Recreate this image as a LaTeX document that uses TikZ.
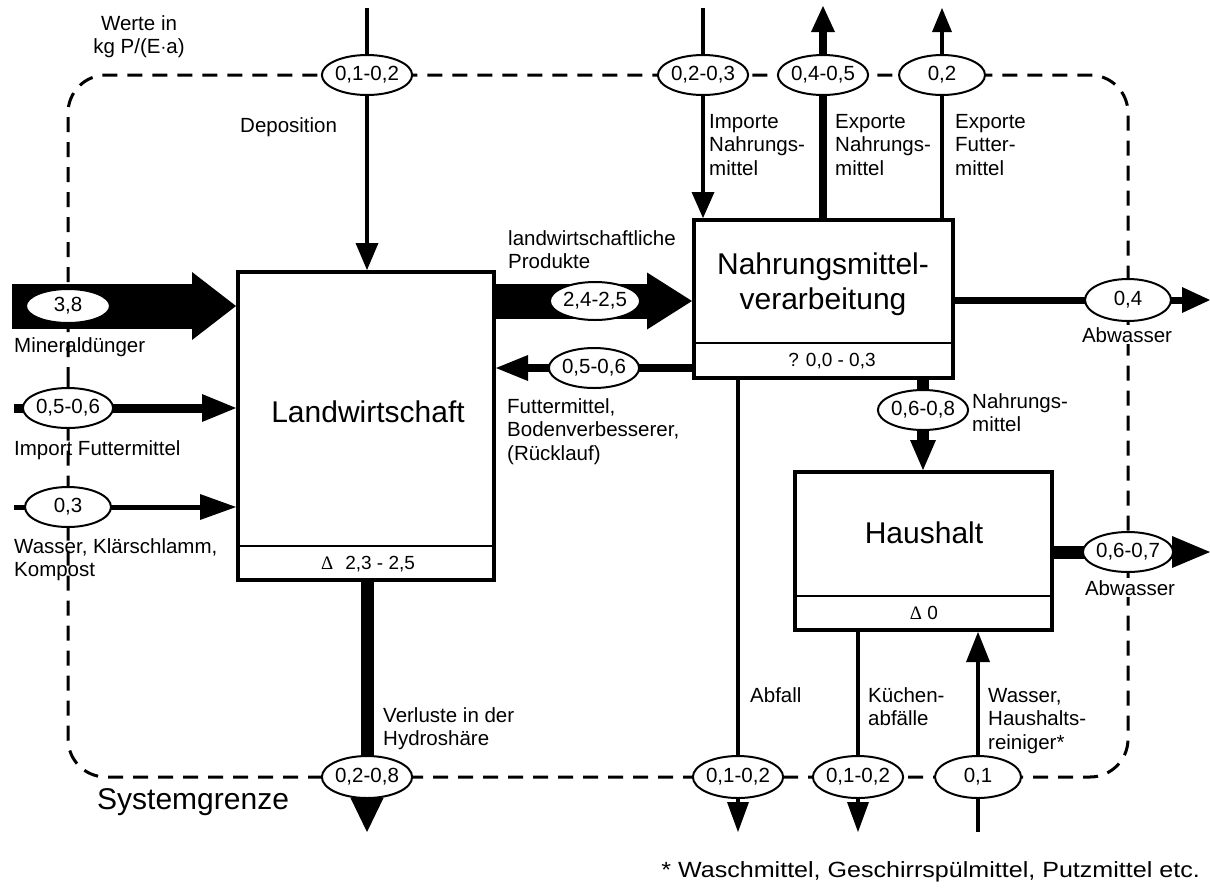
\documentclass[tikz,border=0pt]{standalone}
\usepackage{fontspec}
\setmainfont{Liberation Sans}
\newfontfamily\serifdelta{Liberation Serif}
\usetikzlibrary{arrows.meta,shapes.geometric,calc}
\pgfdeclarelayer{bg}
\pgfdeclarelayer{mid}
\pgfsetlayers{bg,mid,main}
\tikzset{
  box/.style={draw, line width=4pt, rectangle, inner sep=0pt},
  val/.style={draw, ellipse, line width=2pt, fill=white, minimum width=86pt, minimum height=40pt, inner sep=0pt, font=\fontsize{20.5}{24}\selectfont},
  lbl/.style={align=left, anchor=base west, inner sep=0pt, font=\fontsize{20.5}{23.5}\selectfont},
  title/.style={align=center, inner sep=0pt, font=\fontsize{30}{35}\selectfont},
  bnd/.style={dashed, dash pattern=on 15pt off 10pt, line width=3pt, rounded corners=38pt},
  divider/.style={line width=1.5pt},
}
\newcommand{\tri}[2]{Triangle[length=#1pt,width=#2pt,line width=0pt]}
\begin{document}
\begin{tikzpicture}[x=1pt,y=-1pt]
\useasboundingbox (0,0) rectangle (1210,887);
% boxes
\node[box, minimum width=256pt, minimum height=308pt] (LW) at (366,426) {};
\node[box, minimum width=259pt, minimum height=158pt] (NV) at (823.5,299) {};
\node[box, minimum width=257pt, minimum height=158pt] (HH) at (923.5,551) {};
\draw[divider] (LW.west |- 0,546) -- (LW.east |- 0,546);
\draw[divider] (NV.west |- 0,343) -- (NV.east |- 0,343);
\draw[divider] (HH.west |- 0,596) -- (HH.east |- 0,596);
\node[title] (LWt) at (368,412) {Landwirtschaft};
\node[title] (NVt) at (823,284) {Nahrungsmittel-\\verarbeitung};
\node[title] (HHt) at (924,533) {Haushalt};
\node[font=\fontsize{19}{22}\selectfont, inner sep=0pt] (LWs) at (368,564) {{\serifdelta\fontsize{19}{20}\selectfont Δ}\hspace{12pt}2,3 - 2,5};
\node[font=\fontsize{19}{22}\selectfont, inner sep=0pt] (NVs) at (832,361) {? 0,0 - 0,3};
\node[font=\fontsize{19}{22}\selectfont, inner sep=0pt] (HHs) at (924,613) {{\serifdelta\fontsize{19}{20}\selectfont Δ} 0};

% value ellipses
\node[val] (e1) at (367,75) {0,1-0,2};
\node[val] (e2) at (703,75) {0,2-0,3};
\node[val] (e3) at (823,75) {0,4-0,5};
\node[val] (e4) at (942,75) {0,2};
\node[val, minimum width=84pt, minimum height=34pt] (e5) at (68,306) {3,8};
\node[val] (e6) at (68,408) {0,5-0,6};
\node[val] (e7) at (68,507) {0,3};
\node[val, minimum height=38pt] (e8) at (595,301) {2,4-2,5};
\node[val] (e9) at (594,368) {0,5-0,6};
\node[val] (e10) at (923,410) {0,6-0,8};
\node[val, minimum height=42pt] (e11) at (1128,300) {0,4};
\node[val] (e12) at (1128,552) {0,6-0,7};
\node[val, minimum height=42pt] (e13) at (367,777) {0,2-0,8};
\node[val, minimum height=42pt] (e14) at (738,777) {0,1-0,2};
\node[val, minimum height=42pt] (e15) at (858,777) {0,1-0,2};
\node[val, minimum height=42pt] (e16) at (978,777) {0,1};

% free ends
\coordinate (dep0) at (367,8);
\coordinate (imp0) at (703,8);
\coordinate (expN) at (823,6);
\coordinate (expF) at (942,8);
\coordinate (min0) at (12,306);
\coordinate (ifm0) at (14,408);
\coordinate (was0) at (14,507);
\coordinate (lp0) at (0,301);
\coordinate (rl0) at (0,368);
\coordinate (abw1) at (1210,300);
\coordinate (abw2) at (1210,552);
\coordinate (nh0) at (923,0);
\coordinate (ver0) at (367,832);
\coordinate (abf0) at (738,832);
\coordinate (kue0) at (858,832);
\coordinate (whh0) at (978,832);

% labels (base = baseline of the last line)
\node[lbl, align=center, anchor=base] (werte) at (139,53.5) {Werte in\\kg P/(E$\cdot$a)};
\node[lbl] (ldep) at (240,132) {Deposition};
\node[lbl] (limp) at (709,175) {Importe\\Nahrungs-\\mittel};
\node[lbl] (lexn) at (835,175) {Exporte\\Nahrungs-\\mittel};
\node[lbl] (lexf) at (955,175) {Exporte\\Futter-\\mittel};
\node[lbl] (llp) at (508,268.5) {landwirtschaftliche\\Produkte};
\node[lbl] (lmin) at (14,352) {Mineraldünger};
\node[lbl] (lifm) at (14,455) {Import Futtermittel};
\node[lbl] (lwas) at (14,576.5) {Wasser, Klärschlamm,\\Kompost};
\node[lbl] (lrl) at (507,460) {Futtermittel,\\Bodenverbesserer,\\(Rücklauf)};
\node[lbl] (lnh) at (972,431.5) {Nahrungs-\\mittel};
\node[lbl, anchor=base, fill=white, inner sep=2pt] (labw1) at (1127,342) {Abwasser};
\node[lbl, anchor=base, fill=white, inner sep=2pt] (labw2) at (1130,595) {Abwasser};
\node[lbl] (lver) at (383,745.5) {Verluste in der\\Hydroshäre};
\node[lbl] (labf) at (750,702) {Abfall};
\node[lbl] (lkue) at (868,725.5) {Küchen-\\abfälle};
\node[lbl] (lwhh) at (988,749) {Wasser,\\Haushalts-\\reiniger*};
\node[lbl, font=\fontsize{30}{35}\selectfont] (lsys) at (97,809) {Systemgrenze};
\node[lbl, anchor=base east, font=\fontsize{22}{26}\selectfont] (lfoot) at (1200,877) {\scalebox{1.14}[1]{* Waschmittel, Geschirrspülmittel, Putzmittel etc.}};

\begin{pgfonlayer}{bg}
\draw[bnd] (68,420) -- (68,75) -- (1128,75) -- (1128,777) -- (68,777) -- cycle;
\end{pgfonlayer}

\begin{pgfonlayer}{mid}
% top
\draw[line width=3.5pt, -{\tri{27}{23}}] (dep0) -- (dep0 |- LW.north);
\draw[line width=3.5pt, -{\tri{26}{23}}] (imp0) -- (imp0 |- NV.north);
\draw[line width=8pt, -{\tri{26}{24}}] (expN |- NV.north) -- (expN);
\draw[line width=4pt, -{\tri{24}{20}}] (expF |- NV.north) -- (expF);
% left inputs
\draw[line width=45pt, -{\tri{44}{68}}] (min0) -- (min0 -| LW.west);
\draw[line width=9pt, -{\tri{34}{28}}] (ifm0) -- (ifm0 -| LW.west);
\draw[line width=5pt, -{\tri{36}{26}}] (was0) -- (was0 -| LW.west);
% between LW and NV
\draw[line width=35pt, -{\tri{45}{57}}] (lp0 -| LW.east) -- (lp0 -| NV.west);
\draw[line width=8pt, -{\tri{32}{26}}] (rl0 -| NV.west) -- (rl0 -| LW.east);
% right outputs
\draw[line width=7pt, -{\tri{28}{26}}] (abw1 -| NV.east) -- (abw1);
\draw[line width=13pt, -{\tri{38}{32}}] (abw2 -| HH.east) -- (abw2);
\draw[line width=12pt, -{\tri{30}{26}}] (nh0 |- NV.south) -- (nh0 |- HH.north);
% bottom
\draw[line width=13pt, -{\tri{34}{33}}] (ver0 |- LW.south) -- (ver0);
\draw[line width=3.5pt, -{\tri{30}{22}}] (abf0 |- NV.south) -- (abf0);
\draw[line width=3.5pt, -{\tri{30}{22}}] (kue0 |- HH.south) -- (kue0);
\draw[line width=3.5pt, -{\tri{30}{24}}] (whh0) -- (whh0 |- HH.south);
\end{pgfonlayer}
\end{tikzpicture}
\end{document}
